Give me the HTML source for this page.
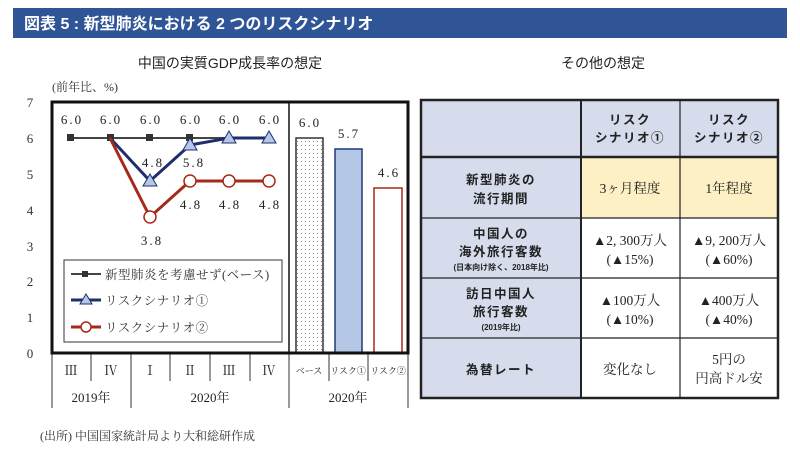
<!DOCTYPE html>
<html><head><meta charset="utf-8"><style>
body{margin:0;width:800px;height:455px;background:#fff;overflow:hidden}
svg{display:block}
text{font-family:"Liberation Serif","Noto Serif CJK SC",serif}
.g{font-family:"Liberation Sans","Noto Sans CJK JP",sans-serif}
</style></head><body>
<svg width="800" height="455" viewBox="0 0 800 455">
<rect x="13" y="8" width="774" height="30" fill="#2f5597"/>
<text x="24" y="29" class="g" font-size="16" font-weight="bold" fill="#fff">図表 5 : 新型肺炎における 2 つのリスクシナリオ</text>
<text x="230" y="68" class="g" font-size="14" text-anchor="middle" fill="#222">中国の実質GDP成長率の想定</text>
<text x="603" y="68" class="g" font-size="14" text-anchor="middle" fill="#222">その他の想定</text>
<text x="52" y="91" font-size="12" fill="#333" font-family="Noto Serif CJK SC,serif">(前年比、%)</text>
<g font-size="13" fill="#333" text-anchor="middle">
<text x="30" y="107">7</text><text x="30" y="143">6</text><text x="30" y="179">5</text><text x="30" y="215">4</text><text x="30" y="251">3</text><text x="30" y="286">2</text><text x="30" y="322">1</text><text x="30" y="358">0</text>
</g>
<g stroke="#333" stroke-width="1">
<line x1="52" y1="353" x2="52" y2="408"/><line x1="131" y1="353" x2="131" y2="408"/><line x1="289" y1="353" x2="289" y2="408"/><line x1="408" y1="353" x2="408" y2="408"/>
<line x1="91" y1="353" x2="91" y2="381"/><line x1="170" y1="353" x2="170" y2="381"/><line x1="210" y1="353" x2="210" y2="381"/><line x1="250" y1="353" x2="250" y2="381"/><line x1="329" y1="353" x2="329" y2="381"/><line x1="368" y1="353" x2="368" y2="381"/>
</g>
<g font-size="13" fill="#222" text-anchor="middle">
<text x="71" y="375">Ⅲ</text><text x="111" y="375">Ⅳ</text><text x="150" y="375">Ⅰ</text><text x="190" y="375">Ⅱ</text><text x="229" y="375">Ⅲ</text><text x="269" y="375">Ⅳ</text>
<text x="309" y="374" font-size="9">ベース</text><text x="348" y="374" font-size="9">リスク①</text><text x="388" y="374" font-size="9">リスク②</text>
<text x="91" y="402">2019年</text><text x="210" y="402">2020年</text><text x="348" y="402">2020年</text>
</g>
<defs><pattern id="dots" width="4" height="4" patternUnits="userSpaceOnUse"><rect width="4" height="4" fill="#fff"/><rect x="1" y="1" width="1" height="1" fill="#888"/></pattern></defs>
<rect x="296" y="138" width="27" height="215" fill="url(#dots)" stroke="#333" stroke-width="1.5"/>
<rect x="335" y="149" width="27" height="204" fill="#b4c7e7" stroke="#1f3a7a" stroke-width="1.5"/>
<rect x="374" y="188" width="28" height="165" fill="#fff" stroke="#a52a1a" stroke-width="1.5"/>
<g font-size="13" fill="#222" text-anchor="middle" letter-spacing="2">
<text x="310" y="127">6.0</text><text x="349" y="138">5.7</text><text x="389" y="177">4.6</text>
</g>
<rect x="52" y="102" width="356" height="251" fill="none" stroke="#111" stroke-width="3"/>
<line x1="289" y1="102" x2="289" y2="353" stroke="#111" stroke-width="1.5"/>
<polyline points="71,138 110,138 150,138 190,138 229,138 269,138" fill="none" stroke="#444" stroke-width="2"/>
<g fill="#333"><rect x="67" y="134" width="7" height="7"/><rect x="107" y="134" width="7" height="7"/><rect x="146" y="134" width="7" height="7"/><rect x="186" y="134" width="7" height="7"/></g>
<polyline points="110,138 150,181 190,145 229,138 269,138" fill="none" stroke="#1f2f6e" stroke-width="3"/>
<polyline points="110,138 150,217 190,181 229,181 269,181" fill="none" stroke="#a52a1a" stroke-width="3"/>
<g fill="#b4c7e7" stroke="#1f2f6e" stroke-width="1"><polygon points="150,174 157,186 143,186"/><polygon points="190,138 197,150 183,150"/><polygon points="229,131 236,143 222,143"/><polygon points="269,131 276,143 262,143"/></g>
<g fill="#fff" stroke="#a52a1a" stroke-width="1.5"><circle cx="150" cy="217" r="6"/><circle cx="190" cy="181" r="6"/><circle cx="229" cy="181" r="6"/><circle cx="269" cy="181" r="6"/></g>
<g font-size="13" fill="#222" text-anchor="middle" letter-spacing="2">
<text x="72" y="124">6.0</text><text x="111" y="124">6.0</text><text x="151" y="124">6.0</text><text x="191" y="124">6.0</text><text x="230" y="124">6.0</text><text x="270" y="124">6.0</text>
<text x="153" y="167">4.8</text><text x="194" y="167">5.8</text>
<text x="191" y="209">4.8</text><text x="230" y="209">4.8</text><text x="270" y="209">4.8</text>
<text x="152" y="245">3.8</text>
</g>
<rect x="64" y="260" width="218" height="82" fill="#fff" stroke="#333" stroke-width="1"/>
<line x1="71" y1="274" x2="101" y2="274" stroke="#444" stroke-width="2"/><rect x="82" y="271" width="6" height="6" fill="#333"/>
<line x1="71" y1="300" x2="101" y2="300" stroke="#1f2f6e" stroke-width="3"/><polygon points="86,294 92,304 80,304" fill="#b4c7e7" stroke="#1f2f6e"/>
<line x1="71" y1="327" x2="101" y2="327" stroke="#a52a1a" stroke-width="3"/><circle cx="86" cy="327" r="5" fill="#fff" stroke="#a52a1a" stroke-width="1.5"/>
<g font-size="12.5" fill="#333" letter-spacing="0.5">
<text x="105" y="279">新型肺炎を考慮せず(ベース)</text><text x="105" y="305">リスクシナリオ①</text><text x="105" y="332">リスクシナリオ②</text>
</g>
<rect x="421" y="100" width="357" height="57" fill="#d6dcec"/>
<rect x="421" y="157" width="160" height="181" fill="#d6dcec"/>
<rect x="421" y="338" width="160" height="60" fill="#d6dcec"/>
<rect x="581" y="157" width="197" height="61" fill="#fdf0c4"/>
<g stroke="#222" stroke-width="1.2" fill="none">
<rect x="421" y="100" width="357" height="298" stroke-width="2.5"/>
<line x1="581" y1="100" x2="581" y2="398" stroke-width="2"/><line x1="680" y1="100" x2="680" y2="398"/>
<line x1="421" y1="157" x2="778" y2="157" stroke-width="2.5"/>
<line x1="421" y1="218" x2="778" y2="218"/><line x1="421" y1="278" x2="778" y2="278"/><line x1="421" y1="338" x2="778" y2="338"/>
</g>
<g class="g" font-size="12.5" font-weight="bold" fill="#222" text-anchor="middle" letter-spacing="1.5">
<text x="630" y="124" class="g">リスク</text><text x="630" y="142" class="g">シナリオ①</text>
<text x="729" y="124" class="g">リスク</text><text x="729" y="142" class="g">シナリオ②</text>
<text x="501" y="184" class="g">新型肺炎の</text><text x="501" y="203" class="g">流行期間</text>
<text x="501" y="238" class="g">中国人の</text><text x="501" y="256" class="g">海外旅行客数</text><text x="501" y="270" class="g" font-size="8" letter-spacing="0">(日本向け除く、2018年比)</text>
<text x="501" y="298" class="g">訪日中国人</text><text x="501" y="316" class="g">旅行客数</text><text x="501" y="330" class="g" font-size="8" letter-spacing="0">(2019年比)</text>
<text x="501" y="374" class="g">為替レート</text>
</g>
<g font-size="13.5" fill="#222" text-anchor="middle" font-family="Noto Serif CJK SC,serif">
<text x="630" y="193">3ヶ月程度</text><text x="729" y="193">1年程度</text>
<text x="630" y="245">▲2, 300万人</text><text x="630" y="264">(▲15%)</text>
<text x="729" y="245">▲9, 200万人</text><text x="729" y="264">(▲60%)</text>
<text x="630" y="305">▲100万人</text><text x="630" y="324">(▲10%)</text>
<text x="729" y="305">▲400万人</text><text x="729" y="324">(▲40%)</text>
<text x="630" y="374">変化なし</text>
<text x="729" y="364">5円の</text><text x="729" y="383">円高ドル安</text>
</g>
<text x="40" y="440" font-size="12" fill="#333" font-family="Noto Serif CJK SC,serif">(出所) 中国国家統計局より大和総研作成</text>
</svg>
</body></html>
